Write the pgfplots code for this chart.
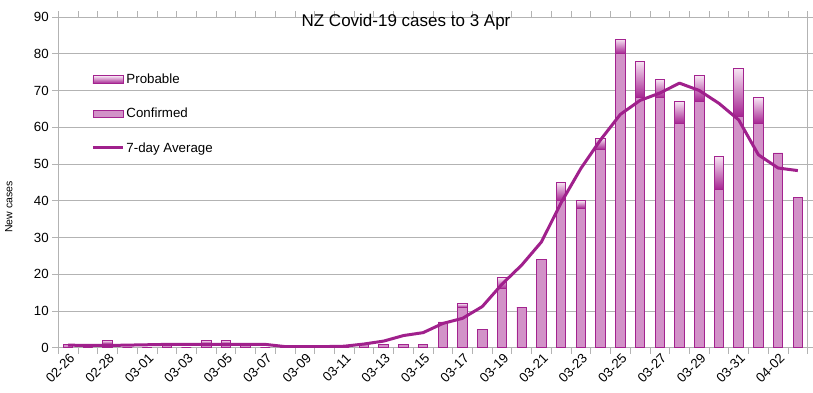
\documentclass[border=0pt]{standalone}
\usepackage{fontspec}
\setmainfont{Liberation Sans}
\usepackage{pgfplots}
\usepackage{pgfplotstable}
\pgfplotsset{compat=1.18}
\usetikzlibrary{shadings}
\definecolor{conf}{RGB}{210,146,200}
\definecolor{bord}{RGB}{163,35,143}
\definecolor{avgc}{RGB}{160,32,140}
\definecolor{probtop}{RGB}{246,228,242}
\definecolor{probbot}{RGB}{165,35,145}
\definecolor{gridc}{RGB}{179,179,179}
\pgfplotsset{
  boxlegend/.style={legend image code/.code={\draw[##1] (0pt,-3.8pt) rectangle (30pt,3.8pt);}},
  linelegend/.style={legend image code/.code={\draw[##1] (0pt,0pt) -- (30pt,0pt);}},
  common/.style={width=749.4pt, height=330.7pt, scale only axis, xmin=-0.5, xmax=37.5, ymin=0, ymax=90}
}
\pgfplotstableread{
i conf prob avg
0 1 0 0.7
1 0 0 0.6
2 1 1 0.6
3 0 0 0.7
4 0 0 0.8
5 1 0 0.9
6 0 0 0.9
7 1 1 0.9
8 1 1 0.9
9 1 0 0.9
10 0 0 0.9
11 0 0 0.3
12 0 0 0.3
13 0 0 0.3
14 0 0 0.4
15 1 0 1.0
16 1 0 1.8
17 1 0 3.3
18 1 0 4.1
19 7 0 6.6
20 11 1 8.0
21 5 0 11.2
22 16 3 17.3
23 11 0 22.5
24 24 0 28.8
25 40 5 39.5
26 38 2 48.8
27 54 3 56.6
28 80 4 63.5
29 68 10 67.3
30 68 5 69.3
31 61 6 72.0
32 67 7 70.0
33 43 9 66.5
34 63 13 62.0
35 61 7 52.5
36 53 0 48.9
37 41 0 48.2
}\data
\begin{document}
\begin{tikzpicture}
\begin{axis}[common,
  axis line style={gridc, line width=0.8pt},
  ymajorgrids, grid style={gridc, line width=0.8pt},
  ytick={0,10,...,90},
  tick align=outside, major tick length=6pt,
  tick style={gridc, line width=0.8pt},
  xtick={-0.5,0.5,...,37.5}, xticklabel={\empty},
  extra x ticks={0,2,...,36},
  extra x tick labels={02-26,02-28,03-01,03-03,03-05,03-07,03-09,03-11,03-13,03-15,03-17,03-19,03-21,03-23,03-25,03-27,03-29,03-31,04-02},
  extra x tick style={major tick length=0pt, xticklabel style={rotate=45, anchor=north east, inner sep=1pt, yshift=-3pt, xshift=-2pt}},
  /pgf/number format/assume math mode=true,
  tick label style={font=\fontsize{13.3}{15}\selectfont},
  ylabel={New cases},
  ylabel style={font=\fontsize{10.5}{12}\selectfont, at={(axis description cs:-0.066,0.425)}, anchor=center},
  title={NZ Covid-19 cases to 3 Apr},
  title style={at={(axis description cs:0.464,0.967)}, anchor=center, font=\fontsize{17}{20}\selectfont},
]
\addplot[ybar, bar width=9.5pt, bar shift=0pt, draw=bord, fill=conf, line width=0.9pt,
  visualization depends on={\thisrow{prob}*3.674444 \as \hprob},
  nodes near coords={\relax},
  every node near coord/.append style={anchor=south, inner sep=0pt, outer sep=0pt,
     minimum width=9.5pt, minimum height=\hprob pt, draw=bord, line width=0.9pt,
     top color=probtop, bottom color=probbot}]
  table[x=i,y=conf]{\data};
\end{axis}
\begin{axis}[common, hide axis,
  legend cell align=left,
  legend style={at={(axis description cs:0.044,0.834)}, anchor=north west, draw=none, fill=none,
    inner sep=0pt, row sep=19pt, nodes={inner sep=2pt}, font=\fontsize{13.3}{15}\selectfont},
]
\addlegendimage{boxlegend, draw=bord, line width=0.9pt, top color=probtop, bottom color=probbot}
\addlegendentry{Probable}
\addlegendimage{boxlegend, draw=bord, line width=0.9pt, fill=conf}
\addlegendentry{Confirmed}
\addlegendimage{linelegend, avgc, line width=3pt}
\addlegendentry{7-day Average}
\addplot[avgc, line width=3pt, line join=round, forget plot] table[x=i,y=avg]{\data};
\end{axis}
\pgfresetboundingbox
\useasboundingbox (-58.3pt,-45.3pt) rectangle (754.7pt,347.7pt);
\end{tikzpicture}
\end{document}
